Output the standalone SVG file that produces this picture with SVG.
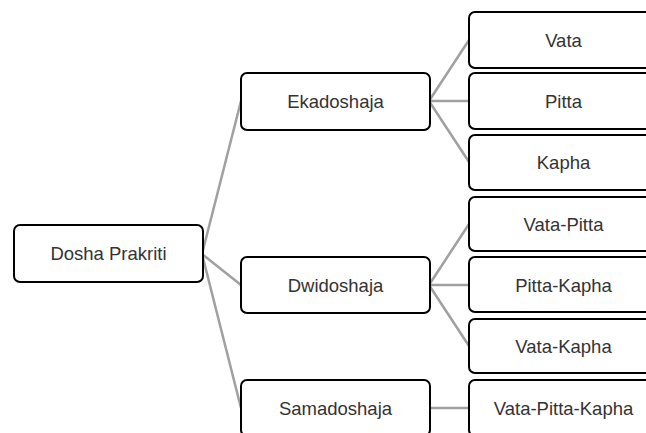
<svg xmlns="http://www.w3.org/2000/svg" width="646" height="433" viewBox="0 0 646 433">
<style>
.box{fill:#fff;stroke:#000;stroke-width:2}
.lbl{font-family:"Liberation Sans",Arial,sans-serif;font-size:18.5px;fill:#333;text-anchor:middle;dominant-baseline:central}
.con{stroke:#a0a0a0;stroke-width:2.5;fill:none}
</style>
<rect width="646" height="433" fill="#fff"/>
<g id="connectors">
<line class="con" x1="202" y1="254" x2="241" y2="101"/>
<line class="con" x1="202" y1="254" x2="241" y2="285"/>
<line class="con" x1="202" y1="254" x2="241" y2="408"/>
<line class="con" x1="429" y1="101" x2="469" y2="40"/>
<line class="con" x1="429" y1="101" x2="469" y2="101"/>
<line class="con" x1="429" y1="101" x2="469" y2="162"/>
<line class="con" x1="429" y1="285" x2="469" y2="224"/>
<line class="con" x1="429" y1="285" x2="469" y2="285"/>
<line class="con" x1="429" y1="285" x2="469" y2="346"/>
<line class="con" x1="429" y1="408" x2="469" y2="408"/>
</g>
<g id="root"><rect class="box" x="14" y="225" width="189" height="57" rx="6"/><text class="lbl" x="108.5" y="253.5">Dosha Prakriti</text></g>
<g id="ekadoshaja"><rect class="box" x="241" y="73" width="189" height="57" rx="6"/><text class="lbl" x="335.5" y="101.5">Ekadoshaja</text></g>
<g id="dwidoshaja"><rect class="box" x="241" y="257" width="189" height="56" rx="6"/><text class="lbl" x="335.5" y="285">Dwidoshaja</text></g>
<g id="samadoshaja"><rect class="box" x="241" y="380" width="189" height="56" rx="6"/><text class="lbl" x="335.5" y="408">Samadoshaja</text></g>
<g id="vata"><rect class="box" x="469" y="12" width="189" height="56" rx="6"/><text class="lbl" x="563.5" y="40">Vata</text></g>
<g id="pitta"><rect class="box" x="469" y="73" width="189" height="56" rx="6"/><text class="lbl" x="563.5" y="101">Pitta</text></g>
<g id="kapha"><rect class="box" x="469" y="135" width="189" height="55" rx="6"/><text class="lbl" x="563.5" y="162">Kapha</text></g>
<g id="vata-pitta"><rect class="box" x="469" y="197" width="189" height="54" rx="6"/><text class="lbl" x="563.5" y="224">Vata-Pitta</text></g>
<g id="pitta-kapha"><rect class="box" x="469" y="257" width="189" height="55" rx="6"/><text class="lbl" x="563.5" y="285">Pitta-Kapha</text></g>
<g id="vata-kapha"><rect class="box" x="469" y="319" width="189" height="54" rx="6"/><text class="lbl" x="563.5" y="346">Vata-Kapha</text></g>
<g id="vata-pitta-kapha"><rect class="box" x="469" y="380" width="189" height="56" rx="6"/><text class="lbl" x="563.5" y="408">Vata-Pitta-Kapha</text></g>
</svg>
